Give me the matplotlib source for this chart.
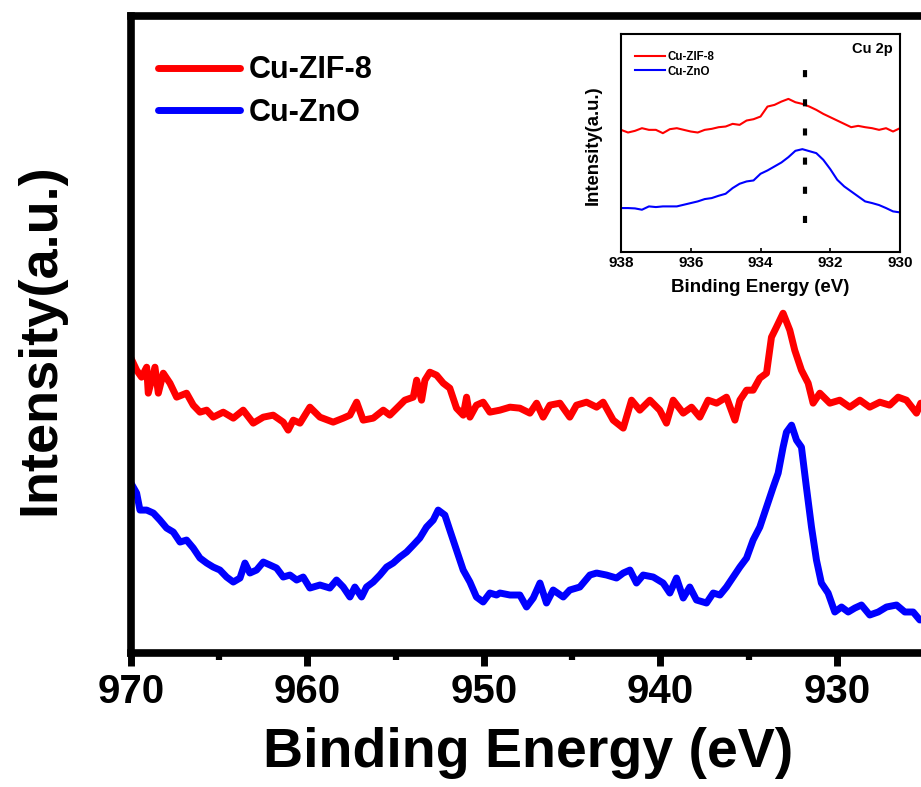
import matplotlib
matplotlib.use('Agg')
import matplotlib.pyplot as plt

plt.rcParams.update({
  'font.family': ['Liberation Sans', 'DejaVu Sans'],
  'font.weight': 'bold',
  'axes.labelweight': 'bold',
})

# main spectrum: Cu-ZIF-8 (binding energy in eV, intensity in a.u.)
red_ev = [970.00, 969.68, 969.40, 969.11, 969.02, 968.64, 968.45, 968.17, 967.79, 967.41,
          966.85, 966.47, 966.09, 965.71, 965.34, 964.77, 964.20, 963.64, 963.07, 962.50,
          961.94, 961.37, 961.09, 960.80, 960.42, 959.86, 959.29, 958.54, 957.97, 957.59,
          957.21, 956.84, 956.27, 955.70, 955.33, 954.76, 954.48, 954.00, 953.81, 953.53,
          953.34, 953.06, 952.68, 952.30, 951.93, 951.55, 951.17, 950.98, 950.79, 950.42,
          950.04, 949.66, 949.09, 948.52, 947.96, 947.39, 947.01, 946.64, 946.26, 945.69,
          945.13, 944.75, 944.18, 943.61, 943.24, 942.67, 942.10, 941.63, 941.16, 940.59,
          940.03, 939.65, 939.27, 938.70, 938.23, 937.76, 937.29, 936.81, 936.25, 935.77,
          935.49, 935.11, 934.74, 934.36, 933.98, 933.70, 933.42, 933.04, 932.66, 932.38,
          932.00, 931.62, 931.34, 930.96, 930.39, 929.83, 929.26, 928.69, 928.13, 927.56,
          927.00, 926.52, 926.05, 925.48, 925.24]
red_int = [295, 283, 276, 286, 260, 286, 260, 280, 270, 256,
           260, 248, 241, 243, 236, 241, 235, 243, 230, 236,
           238, 231, 223, 233, 230, 246, 236, 231, 235, 238,
           251, 233, 235, 243, 238, 248, 253, 256, 273, 253,
           273, 281, 278, 270, 265, 245, 238, 256, 236, 248,
           251, 241, 243, 246, 245, 240, 250, 236, 248, 250,
           236, 248, 251, 246, 251, 233, 225, 253, 243, 253,
           243, 230, 253, 240, 246, 236, 253, 250, 256, 233,
           253, 263, 263, 275, 280, 316, 326, 340, 323, 303,
           283, 270, 250, 260, 250, 253, 246, 253, 246, 251,
           248, 256, 253, 240, 250]

# main spectrum: Cu-ZnO
blue_ev = [970.00, 969.68, 969.49, 969.11, 968.73, 968.36, 967.98, 967.60, 967.22, 966.85,
           966.47, 966.09, 965.71, 965.34, 964.96, 964.58, 964.20, 963.82, 963.54, 963.26,
           962.88, 962.50, 962.12, 961.75, 961.37, 960.99, 960.61, 960.24, 959.86, 959.29,
           958.73, 958.35, 957.97, 957.59, 957.31, 956.93, 956.65, 956.27, 955.89, 955.51,
           955.14, 954.76, 954.38, 954.00, 953.63, 953.25, 952.87, 952.59, 952.21, 951.93,
           951.55, 951.17, 950.79, 950.42, 950.04, 949.66, 949.28, 949.09, 948.52, 947.96,
           947.58, 947.20, 946.82, 946.45, 946.07, 945.50, 945.13, 944.56, 943.99, 943.61,
           943.05, 942.48, 942.10, 941.72, 941.35, 940.97, 940.40, 939.84, 939.46, 939.08,
           938.70, 938.33, 937.95, 937.38, 937.00, 936.62, 936.25, 935.87, 935.49, 935.11,
           934.74, 934.36, 933.98, 933.60, 933.32, 933.04, 932.85, 932.56, 932.28, 932.00,
           931.72, 931.43, 931.15, 930.87, 930.49, 930.11, 929.73, 929.35, 928.97, 928.60,
           928.13, 927.65, 927.18, 926.61, 926.14, 925.67, 925.29]
blue_int = [170, 160, 143, 143, 140, 133, 125, 121, 111, 113,
            105, 95, 90, 86, 83, 76, 71, 75, 90, 80,
            83, 91, 88, 85, 76, 78, 73, 76, 65, 68,
            65, 73, 66, 56, 66, 56, 66, 71, 78, 86,
            90, 96, 101, 108, 115, 126, 133, 143, 138, 123,
            103, 83, 71, 56, 51, 60, 58, 60, 58, 58,
            46, 55, 70, 50, 63, 56, 63, 66, 78, 80,
            78, 75, 80, 83, 70, 78, 76, 70, 60, 75,
            55, 66, 53, 50, 60, 58, 66, 76, 86, 95,
            113, 126, 146, 166, 180, 206, 221, 228, 213, 206,
            166, 126, 93, 70, 60, 41, 46, 41, 45, 48,
            38, 41, 46, 48, 41, 41, 33]

# inset: Cu 2p region
inset_ev = [938.0, 937.8, 937.6, 937.4, 937.2, 937.0, 936.8, 936.6, 936.4, 936.2,
            936.0, 935.8, 935.6, 935.4, 935.2, 935.0, 934.8, 934.6, 934.4, 934.2,
            934.0, 933.8, 933.6, 933.4, 933.2, 933.0, 932.8, 932.6, 932.4, 932.2,
            932.0, 931.8, 931.6, 931.4, 931.2, 931.0, 930.8, 930.6, 930.4, 930.2,
            930.0]
inset_red = [367, 359, 364, 372, 367, 367, 357, 369, 372, 367,
             362, 359, 367, 370, 375, 377, 385, 382, 395, 399,
             407, 437, 442, 452, 460, 450, 445, 437, 427, 415,
             405, 395, 385, 375, 379, 375, 372, 367, 372, 362,
             372]
inset_blue = [132, 132, 131, 127, 137, 135, 137, 137, 137, 142,
              147, 152, 159, 162, 169, 175, 192, 205, 212, 215,
              235, 245, 257, 269, 285, 304, 309, 303, 297, 277,
              249, 217, 197, 182, 167, 152, 147, 141, 132, 122,
              119]
peak_ev = 932.72

RED = '#ff0000'
BLUE = '#0000ff'

fig = plt.figure(figsize=(9.21, 7.87), dpi=100)
ax = fig.add_axes([0.1422, 0.1703, 0.8621, 0.8088])

line_par = {'lw': 5, 'solid_joinstyle': 'round', 'solid_capstyle': 'round'}
ax.plot(red_ev, red_int, color=RED, label='Cu-ZIF-8', **line_par)
ax.plot(blue_ev, blue_int, color=BLUE, label='Cu-ZnO', **line_par)

ax.set_xlim(970, 925)
ax.set_ylim(0, 637)
ax.set_xticks([970, 960, 950, 940, 930])
ax.set_xticks([965, 955, 945, 935], minor=True)
ax.set_yticks([])
for s in ax.spines.values():
  s.set_linewidth(5.5)
ax.tick_params(axis='x', which='major', direction='out', length=9.7, width=5,
               labelsize=29, pad=5)
ax.tick_params(axis='x', which='minor', direction='out', length=4.7, width=4.5)

ax.set_xlabel('Binding Energy (eV)', fontsize=40)
ax.xaxis.set_label_coords(0.5, -0.116)
ax.set_ylabel('Intensity(a.u.)', fontsize=39)
ax.yaxis.set_label_coords(-0.083, 0.493)

ax.legend(loc='upper left', bbox_to_anchor=(0.034, 0.939), frameon=False,
          borderpad=0, borderaxespad=0, handlelength=2.7, handletextpad=0.26,
          labelspacing=0.41, prop={'size': 22, 'weight': 'bold'})

# inset
axin = fig.add_axes([0.6743, 0.6798, 0.3029, 0.277])
axin.set_facecolor('white')
axin.plot(inset_ev, inset_red, color=RED, lw=1.5, label='Cu-ZIF-8')
axin.plot(inset_ev, inset_blue, color=BLUE, lw=1.5, label='Cu-ZnO')
axin.axvline(peak_ev, ymin=0.133, ymax=0.835, color='black', lw=3,
             dashes=(1.7, 5.3))
axin.set_xlim(938, 930)
axin.set_ylim(0, 655)
axin.set_xticks([938, 936, 934, 932, 930])
axin.set_yticks([])
for s in axin.spines.values():
  s.set_linewidth(1.5)
axin.tick_params(axis='x', direction='in', length=3, width=1.2,
                 labelsize=11, pad=3)
axin.set_xlabel('Binding Energy (eV)', fontsize=13.5)
axin.xaxis.set_label_coords(0.5, -0.122)
axin.set_ylabel('Intensity(a.u.)', fontsize=13.3)
axin.yaxis.set_label_coords(-0.068, 0.49)
axin.text(0.975, 0.965, 'Cu 2p', transform=axin.transAxes, ha='right', va='top',
          fontsize=10.5, fontweight='bold')
axin.legend(loc='upper left', bbox_to_anchor=(0.05, 0.921), frameon=False,
            borderpad=0, borderaxespad=0, handlelength=2.6, handletextpad=0.2,
            labelspacing=0.2, prop={'size': 8.3, 'weight': 'bold'})

fig.savefig('out.png', dpi=100)
